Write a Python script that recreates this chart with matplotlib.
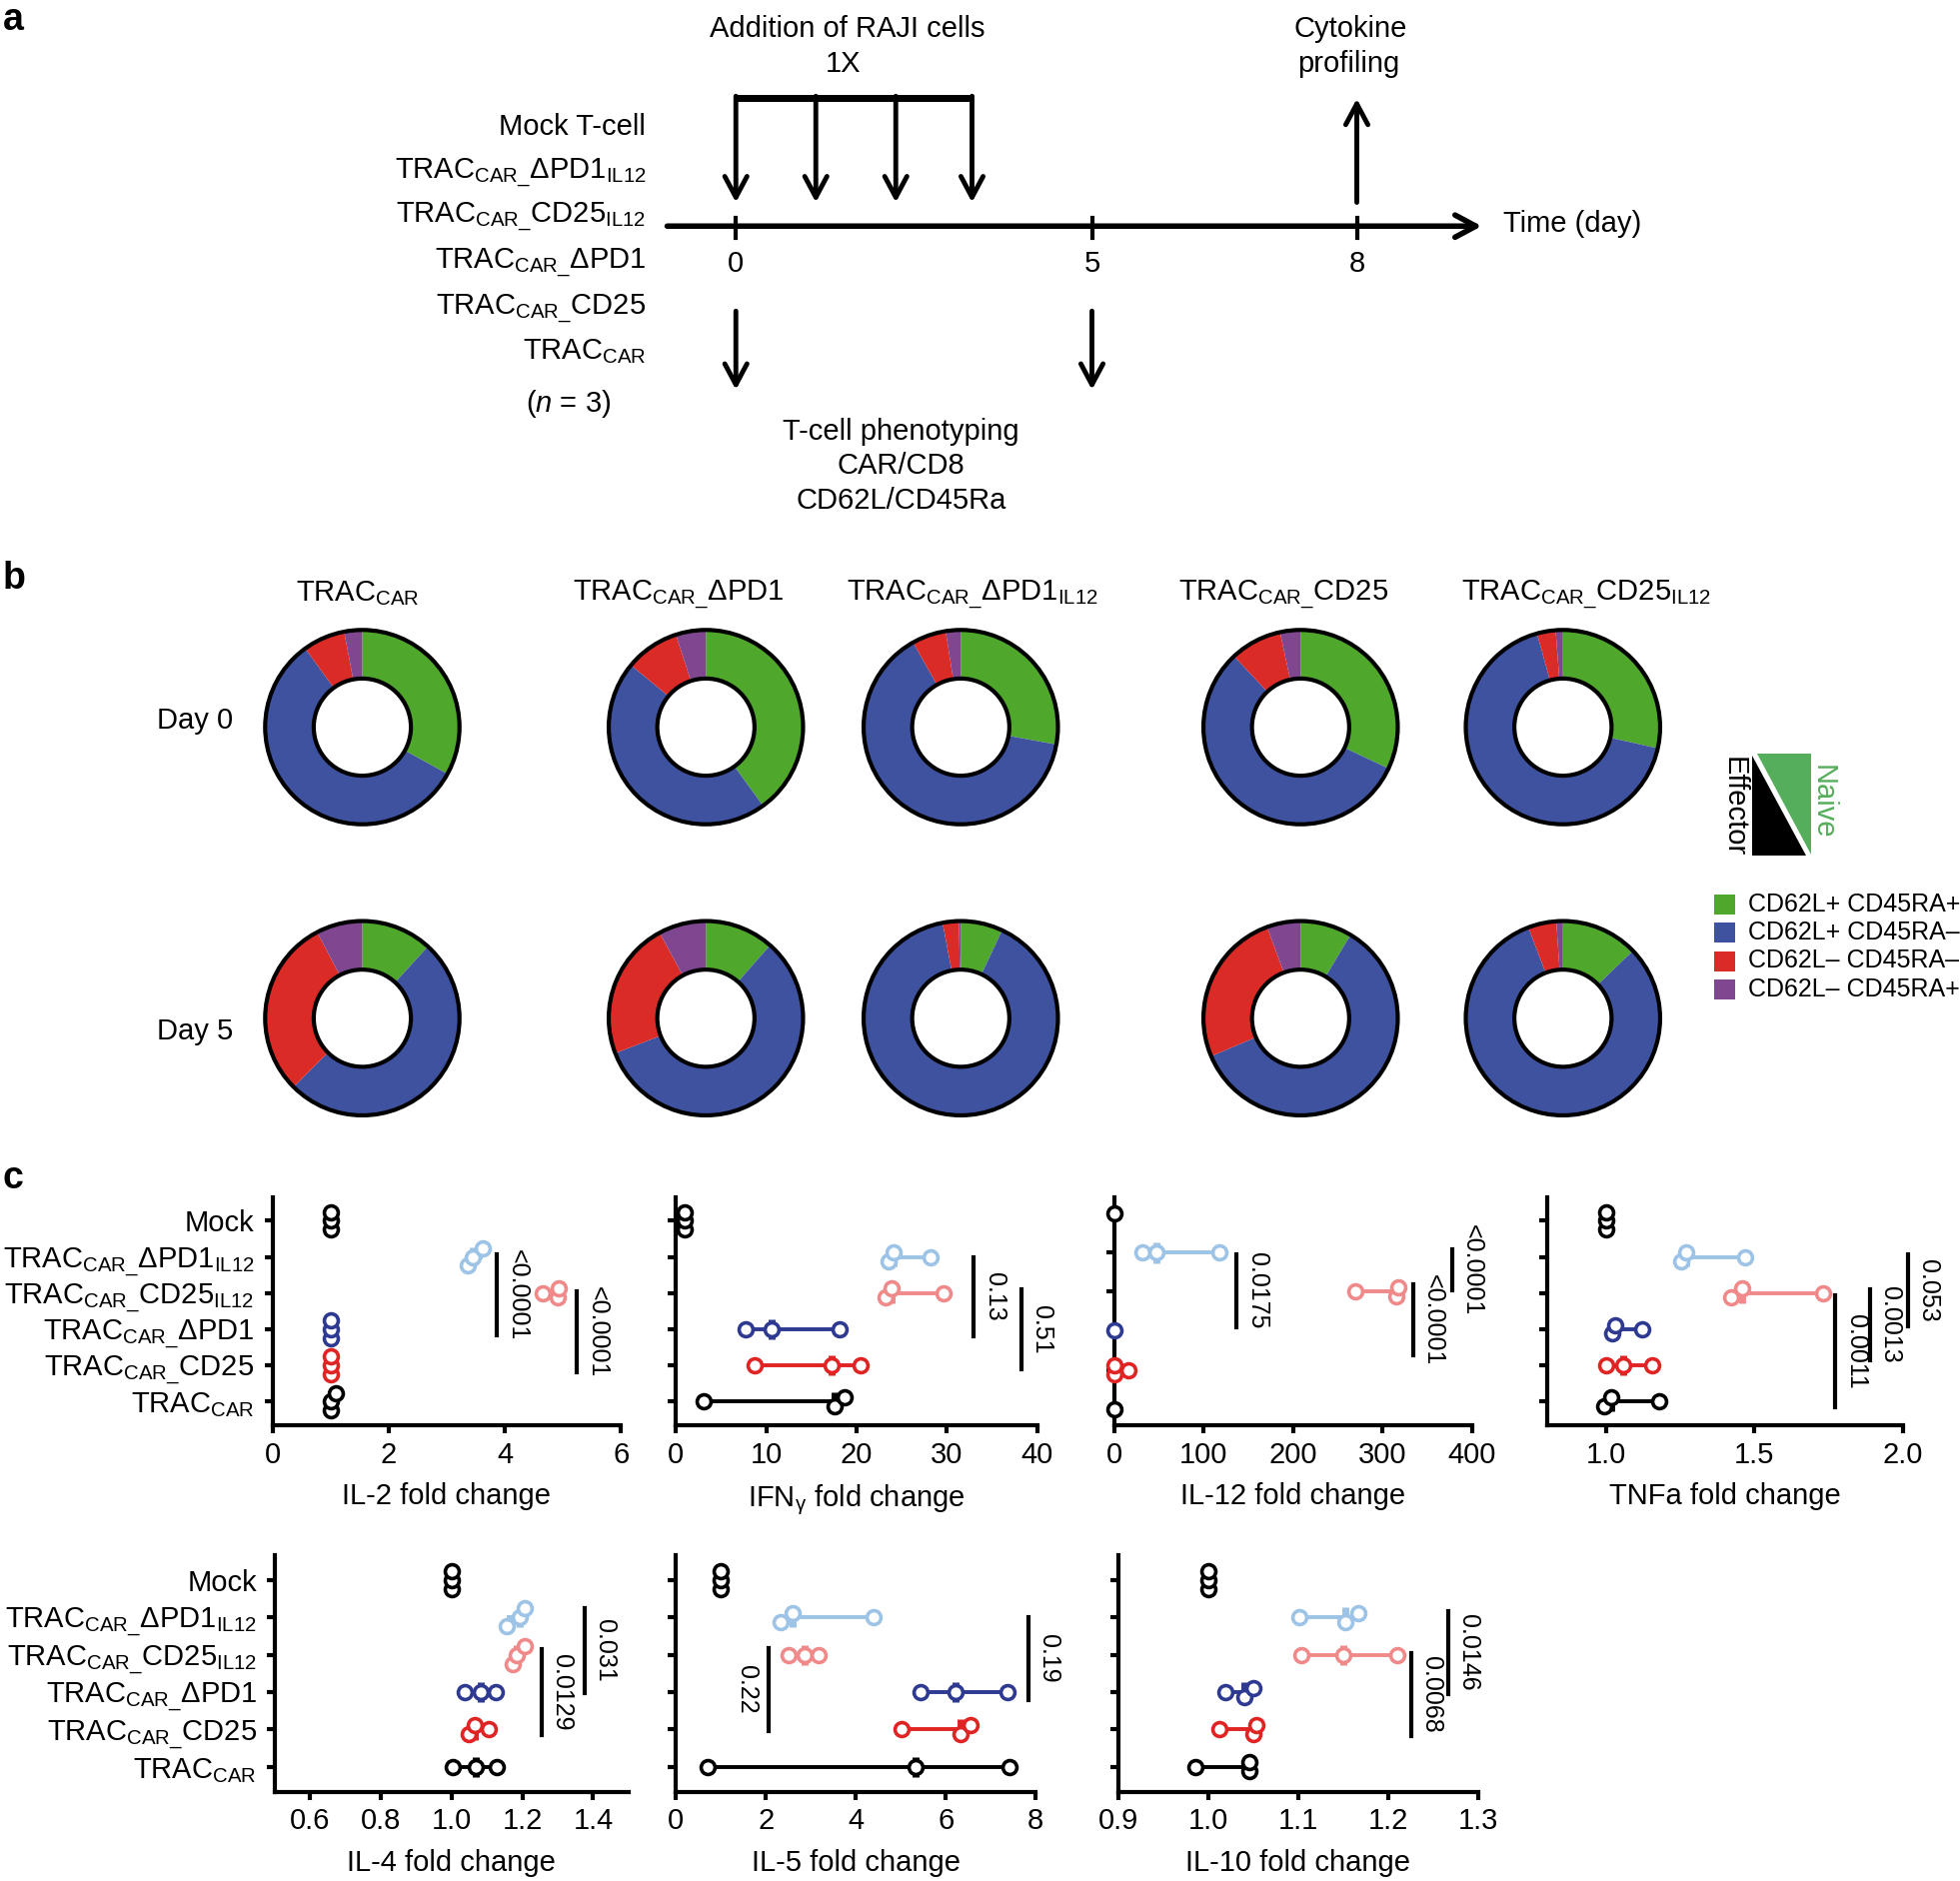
import numpy as np
import matplotlib.pyplot as plt
from matplotlib.patches import Polygon, Rectangle, Circle

plt.rcParams['font.family'] = ['Liberation Sans', 'DejaVu Sans']
plt.rcParams['mathtext.fontset'] = 'custom'
plt.rcParams['mathtext.rm'] = 'Liberation Sans'
plt.rcParams['mathtext.it'] = 'Liberation Sans:italic'
plt.rcParams['mathtext.bf'] = 'Liberation Sans:bold'
plt.rcParams['mathtext.default'] = 'regular'

# ---------------- data ----------------
# panel a: schematic
cell_lines = ['Mock T-cell', 'TRAC$_{CAR\\_}$ΔPD1$_{IL12}$', 'TRAC$_{CAR\\_}$CD25$_{IL12}$',
              'TRAC$_{CAR\\_}$ΔPD1', 'TRAC$_{CAR\\_}$CD25', 'TRAC$_{CAR}$']
day_labels = ['0', '5', '8']

# panel b: T-cell subsets (%), order: green, blue, red, purple
donut_names = ['TRAC$_{CAR}$', 'TRAC$_{CAR\\_}$ΔPD1', 'TRAC$_{CAR\\_}$ΔPD1$_{IL12}$',
               'TRAC$_{CAR\\_}$CD25', 'TRAC$_{CAR\\_}$CD25$_{IL12}$']
subsets = ['CD62L+ CD45RA+', 'CD62L+ CD45RA–', 'CD62L– CD45RA–', 'CD62L– CD45RA+']
subset_colors = ['#4FA82B', '#3F529F', '#DB2B27', '#7E4790']
day0 = [[33, 57, 7, 3], [40, 46, 9, 5], [28, 64.3, 5.7, 2.5],
        [32, 56, 8.6, 3.4], [28.5, 67.2, 3.1, 1.2]]
day5 = [[11.8, 50.7, 29.8, 7.7], [11.5, 57.7, 23, 7.9], [7, 90, 2.7, 0.3],
        [8.6, 60, 25.8, 5.6], [12.8, 81.4, 4.7, 1.1]]

# panel c: cytokine fold change, rows top -> bottom
groups = ['Mock', 'TRAC$_{CAR\\_}$ΔPD1$_{IL12}$', 'TRAC$_{CAR\\_}$CD25$_{IL12}$',
          'TRAC$_{CAR\\_}$ΔPD1', 'TRAC$_{CAR\\_}$CD25', 'TRAC$_{CAR}$']
group_colors = ['black', '#9DC3E6', '#F08A8A', '#2E3A92', '#E02424', 'black']

il2 = [[1.0, 1.0, 1.0], [3.37, 3.45, 3.63], [4.65, 4.91, 4.93],
       [1.0, 1.0, 1.0], [1.0, 1.0, 1.0], [1.0, 1.0, 1.1]]
ifng = [[1.0, 1.0, 1.0], [23.6, 24.1, 28.2], [23.2, 23.9, 29.6],
        [7.7, 10.6, 18.1], [8.7, 17.3, 20.5], [3.1, 17.6, 18.7]]
il12 = [[0], [31, 46.6, 117.5], [270, 316, 318],
        [0], [0, 0, 16], [0]]
tnfa = [[1.0, 1.0, 1.0], [1.254, 1.27, 1.47], [1.42, 1.457, 1.73],
        [1.02, 1.03, 1.12], [1.0, 1.058, 1.155], [0.993, 1.017, 1.18]]
il4 = [[1.0, 1.0, 1.0], [1.156, 1.192, 1.206], [1.173, 1.185, 1.206],
       [1.038, 1.082, 1.124], [1.047, 1.065, 1.106], [1.002, 1.068, 1.127]]
il5 = [[1.0, 1.0, 1.0], [2.33, 2.59, 4.40], [2.50, 2.85, 3.17],
       [5.44, 6.22, 7.37], [5.02, 6.32, 6.54], [0.70, 5.32, 7.41]]
il10 = [[1.0, 1.0, 1.0], [1.101, 1.153, 1.167], [1.104, 1.15, 1.21],
        [1.019, 1.04, 1.05], [1.012, 1.05, 1.054], [0.986, 1.046, 1.046]]

# p-value bars: (x, first row, last row, label, side)
il2_sig = [(3.87, 0.94, 3.16, '<0.0001', 'r'), (5.24, 1.96, 4.18, '<0.0001', 'r')]
ifng_sig = [(33.0, 1.0, 3.2, '0.13', 'r'), (38.3, 1.9, 4.1, '0.51', 'r')]
il12_sig = [(137, 1.06, 2.9, '0.0175', 'r'), (334, 1.81, 3.63, '<0.0001', 'r'),
            (378, 0.91, 1.97, '<0.0001', 'r')]
tnfa_sig = [(2.017, 0.93, 2.92, '0.053', 'r'), (1.888, 1.9, 3.87, '0.0013', 'r'),
            (1.773, 2.06, 5.16, '0.0011', 'r')]
il4_sig = [(1.376, 0.74, 3.02, '0.031', 'r'), (1.255, 1.86, 4.15, '0.0129', 'r')]
il5_sig = [(7.84, 0.98, 3.2, '0.19', 'r'), (2.05, 1.81, 4.05, '0.22', 'l')]
il10_sig = [(1.267, 0.82, 3.04, '0.0146', 'r'), (1.226, 1.95, 4.17, '0.0068', 'r')]

# ---------------- figure ----------------
W, H = 1568.8, 1505.6          # layout units, figure pixels = 1.25 x
fig = plt.figure(figsize=(19.61, 18.82), dpi=100)


def frac(x0, y0, x1, y1):
    return [x0 / W, 1 - y1 / H, (x1 - x0) / W, (y1 - y0) / H]


ax0 = fig.add_axes([0, 0, 1, 1])
ax0.set_xlim(0, W)
ax0.set_ylim(H, 0)
ax0.axis('off')

FS = 21


def arrow(x0, y0, x1, y1, lw=3.5):
    ax0.annotate('', xy=(x1, y1), xytext=(x0, y0),
                 arrowprops=dict(arrowstyle='->,head_length=0.75,head_width=0.4',
                                 lw=lw, color='black', shrinkA=0, shrinkB=0,
                                 mutation_scale=20))


# panel letters
for lab, y in zip(['a', 'b', 'c'], [16, 463, 943]):
    ax0.text(2, y, lab, fontsize=27, fontweight='bold', va='center', ha='left')

# ---- panel a ----
for name, yb in zip(cell_lines, [108, 143, 178, 215, 252, 287]):
    ax0.text(517, yb, name, ha='right', va='baseline', fontsize=FS)
ax0.text(455, 323, '($\\mathit{n}$ = 3)', ha='center', va='center', fontsize=FS)

arrow(534, 181, 1186, 181, lw=4)
day_x = [589, 874, 1086]
for x, d in zip(day_x, day_labels):
    ax0.plot([x, x], [174, 190], color='k', lw=3)
    ax0.text(x, 211, d, ha='center', va='center', fontsize=FS)
ax0.text(1203, 179, 'Time (day)', ha='left', va='center', fontsize=FS)

raji_x = [589, 653, 717, 778]
ax0.plot([raji_x[0] - 1.5, raji_x[-1] + 1.5], [78, 78], color='k', lw=5, solid_capstyle='butt')
for x in raji_x:
    arrow(x, 77, x, 162)
ax0.text(678, 23, 'Addition of RAJI cells', ha='center', va='center', fontsize=FS)
ax0.text(675, 51, '1X', ha='center', va='center', fontsize=FS)

arrow(1086, 162, 1086, 79)
ax0.text(1081, 23, 'Cytokine', ha='center', va='center', fontsize=FS)
ax0.text(1079, 51, 'profiling', ha='center', va='center', fontsize=FS)

arrow(589, 249, 589, 312)
arrow(874, 249, 874, 312)
for t, y in zip(['T-cell phenotyping', 'CAR/CD8', 'CD62L/CD45Ra'], [346, 373, 401]):
    ax0.text(721, y, t, ha='center', va='center', fontsize=FS)

# ---- panel b ----
donut_x = [290, 565, 769, 1041, 1251]
title_x = [286, 543, 778, 1027, 1270]
for name, tx in zip(donut_names, title_x):
    ax0.text(tx, 481, name, ha='center', va='baseline', fontsize=FS)

for day, fracs, cy, ly in zip(['Day 0', 'Day 5'], [day0, day5], [582, 815], [577, 826]):
    ax0.text(156, ly, day, ha='center', va='center', fontsize=FS)
    for cx, vals in zip(donut_x, fracs):
        ax = fig.add_axes(frac(cx - 84, cy - 84, cx + 84, cy + 84))
        ax.pie(vals, colors=subset_colors, startangle=90, counterclock=False,
               wedgeprops=dict(width=0.5, linewidth=0))
        ax.add_patch(Circle((0, 0), 1, fill=False, lw=3, ec='k'))
        ax.add_patch(Circle((0, 0), 0.5, fill=False, lw=3, ec='k'))
        ax.set_xlim(-1.08, 1.08)
        ax.set_ylim(-1.08, 1.08)
        ax.axis('off')

# effector / naive key
ax0.add_patch(Polygon([(1406, 603.5), (1449.5, 603.5), (1449.5, 684)], closed=True,
                      fc='#55AE5B', ec='none'))
ax0.add_patch(Polygon([(1402.5, 605), (1402.5, 684.5), (1445.5, 684.5)], closed=True,
                      fc='black', ec='none'))
ax0.text(1388, 646, 'Effector', rotation=-90, ha='center', va='center', fontsize=21)
ax0.text(1459, 642, 'Naive', rotation=-90, ha='center', va='center', fontsize=21,
         color='#55AE5B')

for i, (name, col) in enumerate(zip(subsets, subset_colors)):
    y = 716 + i * 22.6
    ax0.add_patch(Rectangle((1372, y), 17, 16, fc=col, ec='none'))
    ax0.text(1399, y + 8, name, ha='left', va='center', fontsize=18)

# ---- panel c ----
top_row, bot_row = (958, 1141), (1245, 1434)
panels = [
    ('IL-2 fold change', il2, il2_sig, (0, 6), [0, 2, 4, 6], '{:g}', (218, 497), top_row, 0.66),
    ('IFN$_{γ}$ fold change', ifng, ifng_sig, (0, 40), [0, 10, 20, 30, 40], '{:g}', (541, 830), top_row, 0.66),
    ('IL-12 fold change', il12, il12_sig, (0, 400), [0, 100, 200, 300, 400], '{:g}', (892, 1178), top_row, 0.42),
    ('TNFa fold change', tnfa, tnfa_sig, (0.8, 2.0), [1.0, 1.5, 2.0], '{:.1f}', (1238, 1523), top_row, 0.66),
    ('IL-4 fold change', il4, il4_sig, (0.5, 1.5), [0.6, 0.8, 1.0, 1.2, 1.4], '{:.1f}', (220, 503), bot_row, 0.66),
    ('IL-5 fold change', il5, il5_sig, (0, 8), [0, 2, 4, 6, 8], '{:g}', (541, 829), bot_row, 0.66),
    ('IL-10 fold change', il10, il10_sig, (0.9, 1.3), [0.9, 1.0, 1.1, 1.2, 1.3], '{:.1f}', (895, 1183), bot_row, 0.66),
]

for k, (xlabel, data, sigs, xlim, ticks, fmt, (x0, x1), (y0, y1), pad) in enumerate(panels):
    ax = fig.add_axes(frac(x0, y0, x1, y1))
    wpx = ax.get_position().width * fig.get_figwidth() * fig.dpi
    step = 0.24
    for r, (vals, col) in enumerate(zip(data, group_colors)):
        v = np.sort(np.asarray(vals, float))
        px = (v - xlim[0]) / (xlim[1] - xlim[0]) * wpx
        offs = np.zeros(len(v))
        start = 0
        for i in range(1, len(v) + 1):
            if i == len(v) or px[i] - px[i - 1] > 13:
                n = i - start
                offs[start:i] = step * ((n - 1) / 2 - np.arange(n))
                start = i
        ax.plot([v.min(), v.max()], [r, r], color=col, lw=2.8, zorder=2,
                clip_on=False, solid_capstyle='butt')
        if len(v) > 1:
            med = np.median(v)
            ax.plot([med, med], [r - 0.27, r + 0.27], color=col, lw=5, zorder=2,
                    clip_on=False, solid_capstyle='butt')
        ax.plot(v, r + offs, 'o', ms=10, mfc='white', mec=col, mew=2.6, zorder=3,
                clip_on=False)
    for x, r0, r1, lab, side in sigs:
        ax.plot([x, x], [r0, r1], color='k', lw=3, clip_on=False)
        ax.annotate(lab, xy=(x, (r0 + r1) / 2), xytext=(6 if side == 'r' else -7, 0),
                    textcoords='offset points', rotation=-90,
                    ha='left' if side == 'r' else 'right', va='center', fontsize=18,
                    annotation_clip=False)
    ax.set_xlim(*xlim)
    ax.set_ylim(5 + pad, -pad)
    ax.set_xticks(ticks, [fmt.format(t) for t in ticks])
    ax.set_yticks(range(len(groups)))
    if k in (0, 4):
        ax.set_yticklabels(groups, fontsize=21.5)
    else:
        ax.set_yticklabels([])
    for s in ('top', 'right'):
        ax.spines[s].set_visible(False)
    for s in ('left', 'bottom'):
        ax.spines[s].set_linewidth(3)
    ax.tick_params(axis='both', width=3, length=6, labelsize=FS)
    ax.tick_params(axis='x', pad=5)
    ax.tick_params(axis='y', pad=7)
    ax.set_xlabel(xlabel, fontsize=FS, labelpad=10)
    ax.patch.set_visible(False)

fig.savefig('out.png', dpi=100)
